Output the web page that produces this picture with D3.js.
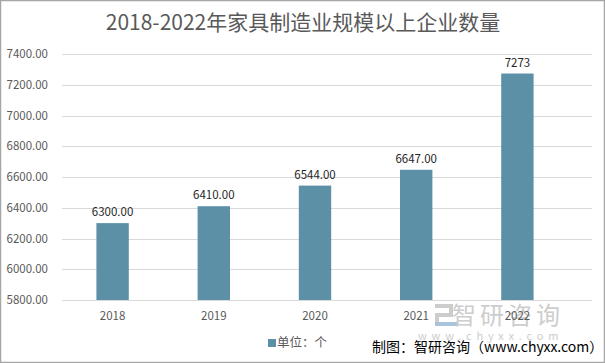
<!DOCTYPE html>
<html>
<head>
<meta charset="utf-8">
<script src="https://cdn.jsdelivr.net/npm/d3@7"></script>
<style>
  body { margin: 0; background: #fff; }
  svg { display: block; font-family: "Noto Sans CJK SC", "Noto Sans", sans-serif; }
</style>
</head>
<body>
<div id="chart"></div>
<script>
// chart data
const years = ["2018", "2019", "2020", "2021", "2022"];
const counts = [6300, 6410, 6544, 6647, 7273];
const countLabels = ["6300.00", "6410.00", "6544.00", "6647.00", "7273"];
const yTicks = [5800, 6000, 6200, 6400, 6600, 6800, 7000, 7200, 7400];

const width = 605, height = 363;
const barColor = "#5b90a6";

const svg = d3.select("#chart").append("svg")
    .attr("width", width)
    .attr("height", height);

// outer frame
svg.append("rect")
    .attr("x", 0.5).attr("y", 0.5)
    .attr("width", width - 1).attr("height", height - 1)
    .attr("fill", "#fff")
    .attr("stroke", "#a6a6a6")
    .attr("stroke-width", 1.5);

// title
svg.append("text")
    .attr("x", 303).attr("y", 30)
    .attr("text-anchor", "middle")
    .attr("font-size", "21px")
    .attr("fill", "#595959")
    .text("2018-2022年家具制造业规模以上企业数量");

const x = d3.scaleBand()
    .domain(years)
    .range([62, 568])
    .paddingInner(0.68)
    .paddingOuter(0.34);

const y = d3.scaleLinear()
    .domain([5800, 7400])
    .range([300, 54]);

// gridlines
svg.append("g")
    .selectAll("line")
    .data(yTicks)
    .join("line")
    .attr("x1", 62).attr("x2", 592)
    .attr("y1", d => Math.round(y(d)) + 0.5)
    .attr("y2", d => Math.round(y(d)) + 0.5)
    .attr("stroke", "#d9d9d9")
    .attr("stroke-width", 1);

// y axis labels
svg.append("g")
    .selectAll("text")
    .data(yTicks)
    .join("text")
    .attr("x", 48)
    .attr("y", d => y(d) + 4)
    .attr("text-anchor", "end")
    .attr("font-size", "11.5px")
    .attr("fill", "#595959")
    .text(d => d.toFixed(2));

// watermark
const wm = svg.append("g").attr("fill", "#cdcdcd");
wm.append("rect").attr("x", 435).attr("y", 304).attr("width", 18).attr("height", 4);
wm.append("rect").attr("x", 449).attr("y", 304).attr("width", 4).attr("height", 12);
wm.append("rect").attr("x", 435).attr("y", 313).attr("width", 18).attr("height", 4);
wm.append("rect").attr("x", 435).attr("y", 313).attr("width", 4).attr("height", 12);
wm.append("rect").attr("x", 435).attr("y", 322).attr("width", 22).attr("height", 4).attr("fill", "#a9c3dc");
wm.append("text")
    .attr("x", 452).attr("y", 324)
    .attr("font-size", "24px")
    .attr("letter-spacing", "4px")
    .text("智研咨询");
wm.append("text")
    .attr("x", 418).attr("y", 340)
    .attr("font-size", "11px")
    .attr("letter-spacing", "4.8px")
    .text("www.chyxx.com");

// x axis line
svg.append("line")
    .attr("x1", 62).attr("x2", 592)
    .attr("y1", 300.5).attr("y2", 300.5)
    .attr("stroke", "#d9d9d9");

// bars
svg.append("g")
    .selectAll("rect")
    .data(counts)
    .join("rect")
    .attr("x", (d, i) => x(years[i]))
    .attr("y", d => y(d))
    .attr("width", x.bandwidth())
    .attr("height", d => y(5800) - y(d))
    .attr("fill", barColor);

// value labels
svg.append("g")
    .selectAll("text")
    .data(counts)
    .join("text")
    .attr("x", (d, i) => x(years[i]) + x.bandwidth() / 2)
    .attr("y", d => y(d) - 7)
    .attr("text-anchor", "middle")
    .attr("font-size", "11.5px")
    .attr("fill", "#262626")
    .text((d, i) => countLabels[i]);

// x axis labels
svg.append("g")
    .selectAll("text")
    .data(years)
    .join("text")
    .attr("x", d => x(d) + x.bandwidth() / 2)
    .attr("y", 320)
    .attr("text-anchor", "middle")
    .attr("font-size", "11.5px")
    .attr("fill", "#595959")
    .text(d => d);

// legend
svg.append("rect")
    .attr("x", 268).attr("y", 339)
    .attr("width", 8).attr("height", 8)
    .attr("fill", barColor);
svg.append("text")
    .attr("x", 277).attr("y", 347)
    .attr("font-size", "12.5px")
    .attr("fill", "#595959")
    .text("单位：个");

// source note
svg.append("text")
    .attr("x", 372).attr("y", 352)
    .attr("font-size", "14px")
    .attr("fill", "#000")
    .text("制图：智研咨询（www.chyxx.com）");
</script>
</body>
</html>
